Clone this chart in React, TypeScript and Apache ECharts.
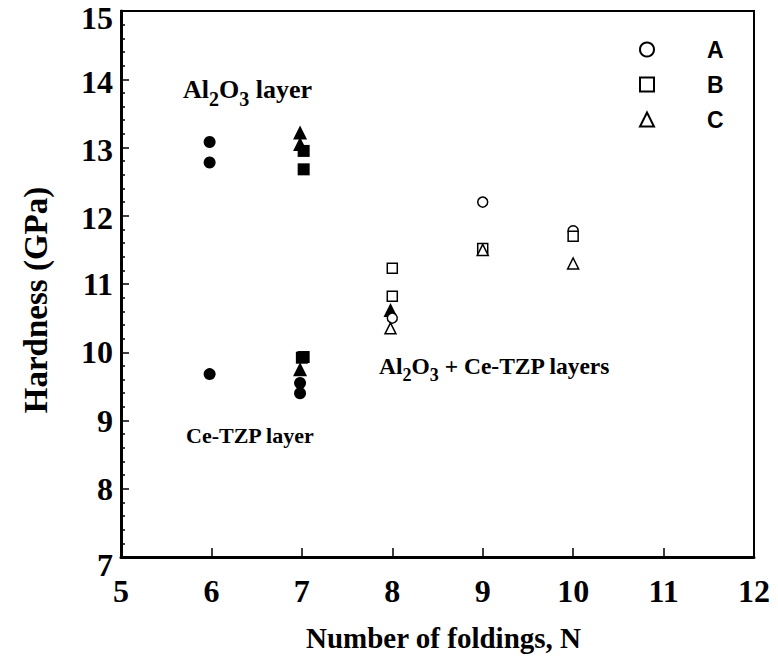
import React, { useEffect, useRef } from "react";
import * as echarts from "echarts";

const xTicks = [5, 6, 7, 8, 9, 10, 11, 12];
const yTicks = [7, 8, 9, 10, 11, 12, 13, 14, 15];

// single-layer measurements (filled symbols)
const layerCircles: number[][] = [
  [5.98, 13.08],
  [5.98, 12.78],
  [5.98, 9.68],
  [6.98, 9.55],
  [6.98, 9.4],
];
const layerSquares: number[][] = [
  [7.02, 12.95],
  [7.02, 12.68],
  [7.02, 9.93],
  [7.0, 9.92],
];
const layerTriangles: number[][] = [
  [6.98, 13.22],
  [6.98, 13.05],
  [6.98, 9.75],
  [7.98, 10.62],
];
// multilayer measurements (open symbols)
const seriesA: number[][] = [
  [8, 10.5],
  [9, 12.2],
  [10, 11.78],
];
const seriesB: number[][] = [
  [8, 11.23],
  [8, 10.82],
  [9, 11.52],
  [10, 11.7],
];
const seriesC: number[][] = [
  [7.98, 10.35],
  [9, 11.5],
  [10, 11.3],
];

const SERIF = "'Liberation Serif', 'Times New Roman', serif";
const SANS = "'Liberation Sans', Arial, sans-serif";

const mkRich = (n: number, s: number, drop: number) => ({
  n: { fontSize: n, fontWeight: "bold", fontFamily: SERIF, color: "#000", lineHeight: n + 2, verticalAlign: "top" },
  s: { fontSize: s, fontWeight: "bold", fontFamily: SERIF, color: "#000", lineHeight: s, padding: [drop, 0, 0, 0], verticalAlign: "top" },
});

const tickFont = { fontFamily: SERIF, fontWeight: "bold", fontSize: 32, color: "#000" };

export default function App() {
  const ref = useRef<HTMLDivElement>(null);
  useEffect(() => {
    if (!ref.current) return;
    const chart = echarts.init(ref.current, undefined, { renderer: "svg" });
    const openStyle = { color: "#fff", borderColor: "#000", borderWidth: 1.5, opacity: 1 };
    const filledStyle = { color: "#000", borderColor: "#000", borderWidth: 0, opacity: 1 };
    chart.setOption({
      animation: false,
      backgroundColor: "#fff",
      grid: {
        left: 121,
        top: 11,
        right: 24,
        bottom: 109,
        outerBoundsMode: "none",
        containLabel: false,
        show: true,
        borderColor: "#000",
        borderWidth: 2,
        backgroundColor: "transparent",
      },
      legend: {
        data: ["A", "B", "C"],
        orient: "vertical",
        left: 634,
        top: 33,
        itemWidth: 14,
        itemHeight: 14,
        itemGap: 12,
        textStyle: { fontFamily: SANS, fontWeight: "bold", fontSize: 23, color: "#000", padding: [0, 0, 0, 48] },
      },
      xAxis: {
        type: "value",
        min: 5,
        max: 12,
        interval: 1,
        name: "Number of foldings, N",
        nameLocation: "middle",
        nameGap: 66,
        nameTextStyle: { fontFamily: SERIF, fontWeight: "bold", fontSize: 29, color: "#000", padding: [0, 0, 0, 12] },
        axisLine: { show: true, lineStyle: { color: "#000", width: 3 } },
        axisTick: { show: true, inside: true, length: 9, lineStyle: { color: "#000", width: 1.5 } },
        axisLabel: {
          margin: 18,
          ...tickFont,
          formatter: (v: number) => (xTicks.includes(v) ? String(v) : ""),
        },
        splitLine: { show: false },
      },
      yAxis: {
        type: "value",
        min: 7,
        max: 15,
        interval: 1,
        axisLine: { show: true, lineStyle: { color: "#000", width: 3 } },
        axisTick: { show: true, inside: true, length: 8, lineStyle: { color: "#000", width: 1.5 } },
        minorTick: { show: true, splitNumber: 5, length: 4, lineStyle: { color: "#000", width: 1.5 } },
        axisLabel: {
          margin: 8,
          ...tickFont,
          formatter: (v: number) => {
            if (!yTicks.includes(v)) return "";
            if (v === 15) return "{t|" + v + "}";
            if (v === 7) return "{b|" + v + "}";
            if (v >= 12) return "{u|" + v + "}";
            return "{n|" + v + "}";
          },
          rich: {
            t: { ...tickFont, padding: [14, 0, 0, 0] },
            b: { ...tickFont, padding: [16, 0, 0, 0] },
            u: { ...tickFont, padding: [5, 0, 0, 0] },
            n: { ...tickFont },
          },
        },
        splitLine: { show: false },
      },
      series: [
        { name: "layer-circle", type: "scatter", symbol: "circle", symbolSize: 12, data: layerCircles, itemStyle: filledStyle },
        { name: "layer-square", type: "scatter", symbol: "rect", symbolSize: 12, data: layerSquares, itemStyle: filledStyle },
        { name: "layer-triangle", type: "scatter", symbol: "triangle", symbolSize: 14, data: layerTriangles, itemStyle: filledStyle },
        { name: "A", type: "scatter", symbol: "circle", symbolSize: 10, data: seriesA, itemStyle: openStyle },
        { name: "B", type: "scatter", symbol: "rect", symbolSize: 10, data: seriesB, itemStyle: openStyle },
        { name: "C", type: "scatter", symbol: "triangle", symbolSize: 11, data: seriesC, itemStyle: openStyle },
      ],
      graphic: [
        {
          type: "text",
          x: 36,
          y: 300,
          rotation: Math.PI / 2,
          style: {
            text: "Hardness (GPa)",
            fontFamily: SERIF,
            fontWeight: "bold",
            fontSize: 33,
            fill: "#000",
            align: "center",
            verticalAlign: "middle",
          },
        },
        {
          type: "text",
          left: 183,
          top: 76,
          style: { text: "{n|Al}{s|2}{n|O}{s|3}{n| layer}", rich: mkRich(26, 20, 13) },
        },
        {
          type: "text",
          left: 186,
          top: 424,
          style: { text: "{n|Ce-TZP layer}", rich: mkRich(22, 17, 11) },
        },
        {
          type: "text",
          left: 379,
          top: 354,
          style: { text: "{n|Al}{s|2}{n|O}{s|3}{n| + Ce-TZP layers}", rich: mkRich(23.5, 18, 12) },
        },
      ],
    });
    return () => chart.dispose();
  }, []);
  return <div ref={ref} style={{ width: 778, height: 666, margin: -8 }} />;
}
